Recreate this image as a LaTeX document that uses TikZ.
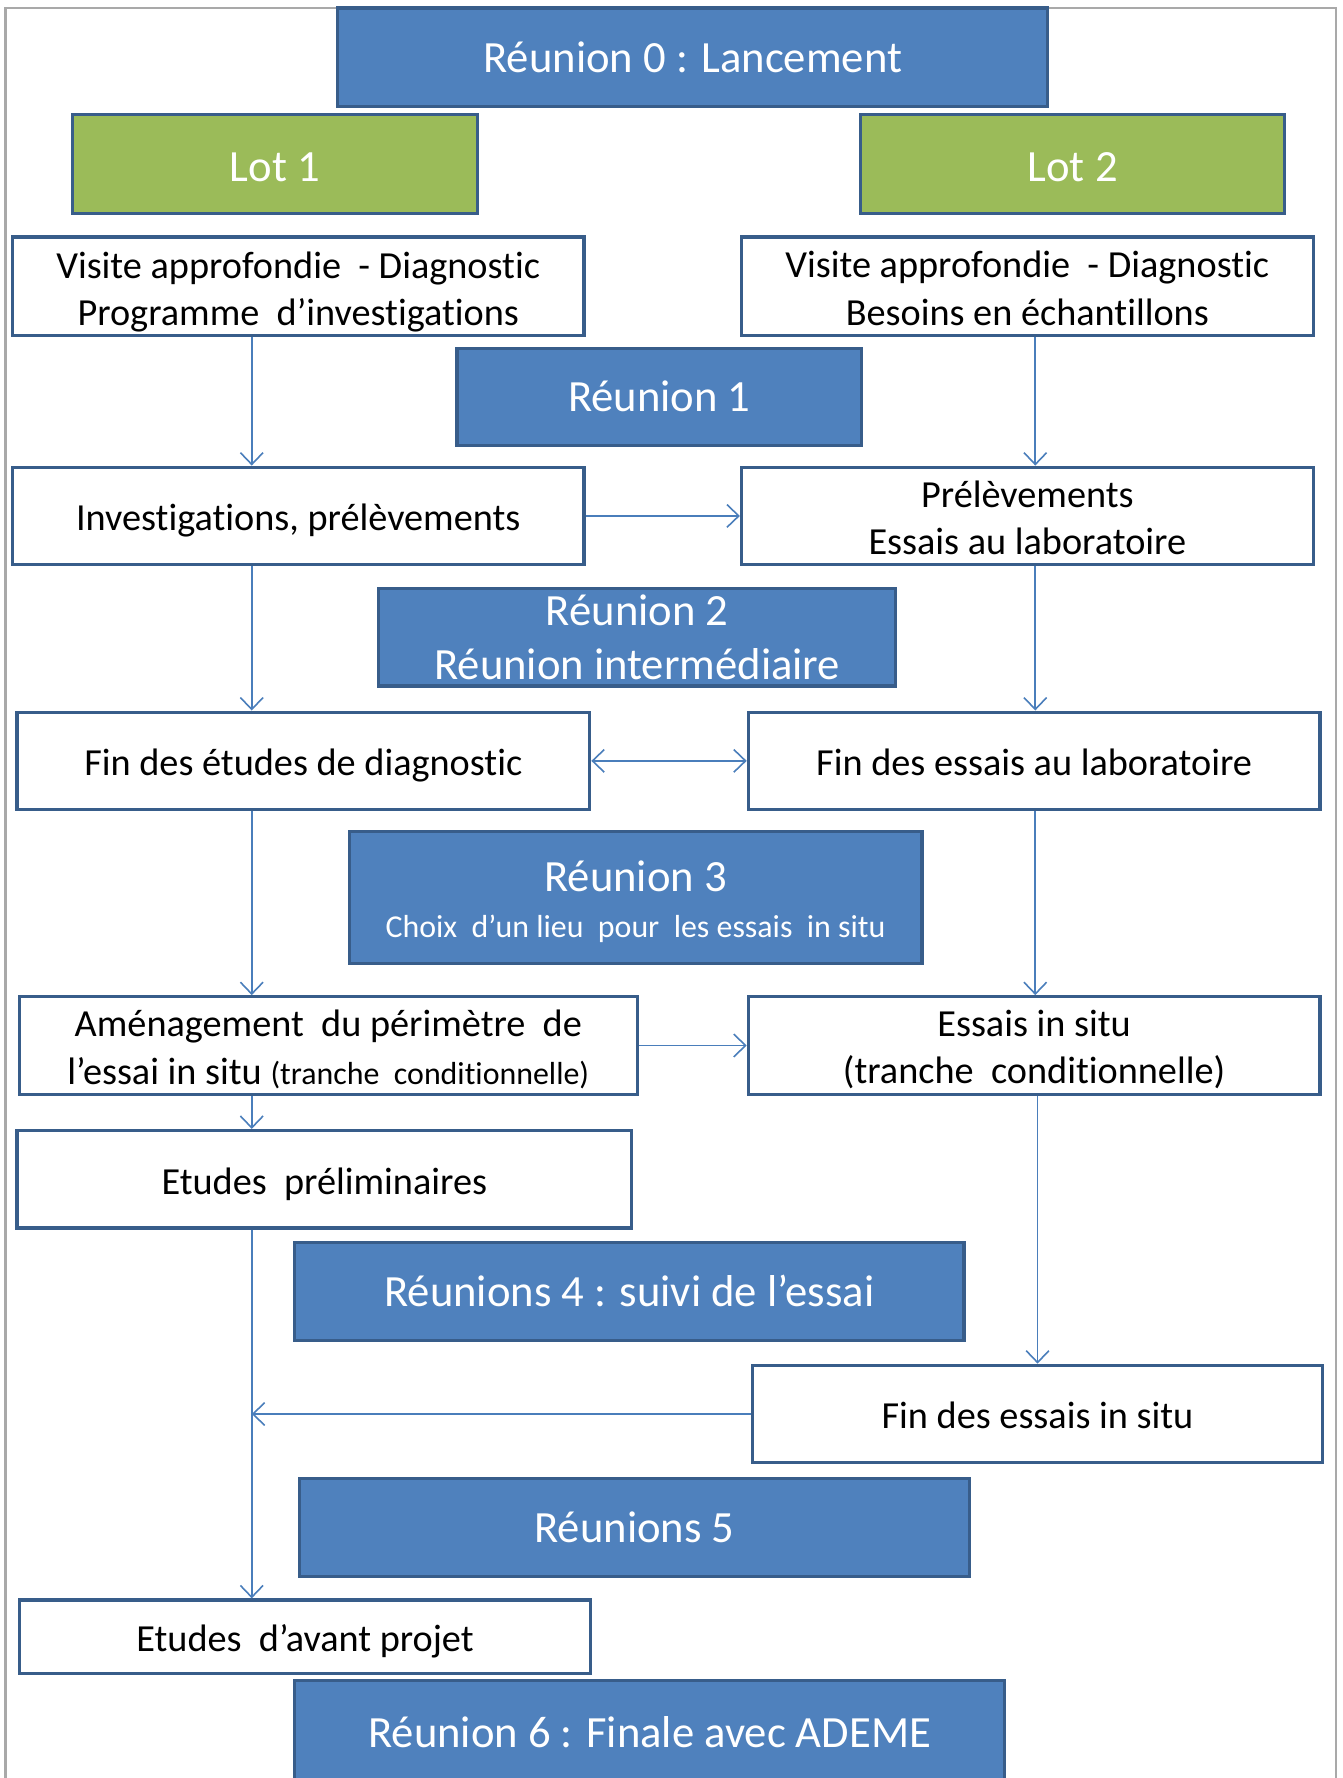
\documentclass[tikz,border=0pt]{standalone}
\usepackage{fontspec}
\setmainfont{Carlito}[Ligatures={NoCommon,NoContextual}]
\usetikzlibrary{arrows.meta, positioning}
\definecolor{cblue}{HTML}{4F81BD}
\definecolor{cborder}{HTML}{385D8A}
\definecolor{cgreen}{HTML}{9BBB59}
\definecolor{carrow}{HTML}{4A7EBB}
\definecolor{cframe}{HTML}{A9A9A9}
\newcommand{\haut}[1][1em]{\rule{0pt}{#1}}
\tikzset{
  cale/.style={execute at begin node={\rule[-0.21em]{0pt}{#1}}, execute at end node={\rule[-0.21em]{0pt}{#1}}},
  cale/.default=1.19em,
  reunion/.style={draw=cborder, fill=cblue, text=white, line width=2pt, inner sep=0pt, align=center,
    font=\fontsize{28}{34}\selectfont, minimum height=2.15cm},
  lot/.style={reunion, fill=cgreen, cale},
  tache/.style={draw=cborder, fill=white, text=black, line width=2pt, inner sep=0pt, align=center,
    font=\fontsize{24}{29.8}\selectfont, minimum height=2.15cm},
  fleche/.style={-{Straight Barb[length=2.6mm, width=5mm]}, draw=carrow, line width=1pt},
}

\begin{document}
\begin{tikzpicture}[x=0.025cm, y=-0.025cm]
  \useasboundingbox (0,0) rectangle (1184,1568);
  \draw[cframe, line width=1.6pt] (5,1600) -- (5,7) -- (1178,7) -- (1178,1600);
  \coordinate (lx) at (222,0);
  \coordinate (rx) at (913,0);
  % reunions et lots
  \node[reunion, cale=1.09em, minimum width=15.65cm, minimum height=2.175cm] (r0) at (611,50.5) {Réunion 0 : Lancement};
  \node[lot, minimum width=8.925cm, minimum height=2.175cm] (lot1) at (242.5,144.5) {Lot 1};
  \node[lot, minimum width=9.35cm, minimum height=2.175cm] (lot2) at (946,144.5) {Lot 2};
  % colonne lot 1
  \node[tache, minimum width=12.6cm, minimum height=2.175cm] (a1) at (263,252.5) {\haut Visite approfondie \ - Diagnostic\\Programme \ d’investigations};
  \node[tache, cale, minimum width=12.6cm] (a2) at (263,455) {Investigations, prélèvements};
  \node[tache, cale, minimum width=12.625cm] (a3) at (267.5,671) {Fin des études de diagnostic};
  \node[tache, minimum width=13.625cm] (a4) at (289.5,922) {\haut[0.9em]Aménagement \ du périmètre \ de\\l’essai in situ {\fontsize{20}{24}\selectfont (tranche \ conditionnelle)}};
  \node[tache, cale, minimum width=13.55cm] (a5) at (286,1040) {Etudes \ préliminaires};
  \node[tache, cale, minimum width=12.6cm, minimum height=1.625cm] (a6) at (269,1443.5) {Etudes \ d’avant projet};
  % colonne lot 2
  \node[tache, minimum width=12.6cm, minimum height=2.175cm] (b1) at (906,252.5) {\haut[0.8em]Visite approfondie \ - Diagnostic\\Besoins en échantillons};
  \node[tache, minimum width=12.6cm] (b2) at (906,455) {\haut[0.8em]Prélèvements\\Essais au laboratoire};
  \node[tache, cale, minimum width=12.6cm] (b3) at (912,671) {Fin des essais au laboratoire};
  \node[tache, minimum width=12.6cm] (b4) at (912,922) {\haut[0.9em]Essais in situ\\(tranche \ conditionnelle)};
  \node[tache, cale, minimum width=12.55cm] (b5) at (915,1247) {Fin des essais in situ};
  % reunions intermediaires
  \node[reunion, cale=1.09em, minimum width=8.925cm] (r1) at (581.5,350) {Réunion 1};
  \node[reunion, minimum width=11.4cm] (r2) at (562,562) {Réunion 2\\Réunion intermédiaire};
  \node[reunion, minimum width=12.625cm, minimum height=2.925cm] (r3) at (560.5,791.5) {\haut[0.88em]Réunion 3\\[-5pt]{\fontsize{20}{24}\selectfont Choix \ d’un lieu \ pour \ les essais \ in situ}};
  \node[reunion, cale=1.09em, minimum width=14.75cm] (r4) at (555,1139) {Réunions 4 : suivi de l’essai};
  \node[reunion, cale=1.09em, minimum width=14.775cm] (r5) at (559.5,1347) {Réunions 5};
  \node[reunion, cale=1.09em, minimum width=15.65cm, minimum height=2.3cm] (r6) at (573,1528) {Réunion 6 : Finale avec ADEME};
  % fleches
  \draw[fleche] (a1.south -| lx) -- (a2.north -| lx);
  \draw[fleche] (a2.south -| lx) -- (a3.north -| lx);
  \draw[fleche] (a3.south -| lx) -- (a4.north -| lx);
  \draw[fleche] (a4.south -| lx) -- (a5.north -| lx);
  \draw[fleche] (a5.south -| lx) -- (a6.north -| lx);
  \draw[fleche] (b1.south -| rx) -- (b2.north -| rx);
  \draw[fleche] (b2.south -| rx) -- (b3.north -| rx);
  \draw[fleche] (b3.south -| rx) -- (b4.north -| rx);
  \draw[fleche] (b4.south -| b5) -- (b5.north);
  \draw[fleche] (a2) -- (b2);
  \draw[fleche, {Straight Barb[length=2.6mm, width=5mm]}-{Straight Barb[length=2.6mm, width=5mm]}] (a3) -- (b3);
  \draw[fleche] (a4) -- (b4);
  \draw[fleche] (b5.west) -- (b5.west -| lx);
\end{tikzpicture}
\end{document}
